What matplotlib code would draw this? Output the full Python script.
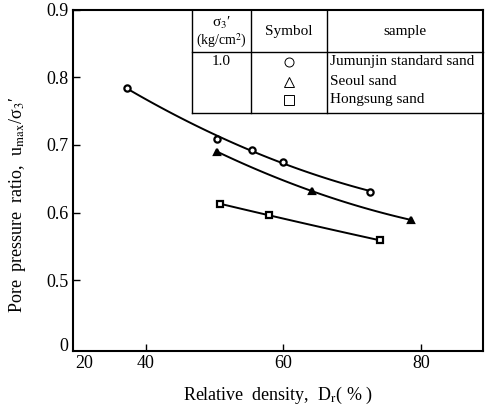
import numpy as np
import matplotlib
matplotlib.use('Agg')
from matplotlib import pyplot as plt

plt.rcParams['font.family'] = ['Liberation Serif', 'DejaVu Serif']
plt.rcParams['mathtext.fontset'] = 'stix'

# data: relative density (%) and pore pressure ratio
jum_dr = [37.2, 50.4, 55.5, 60.0, 72.6]
jum_u = [0.785, 0.709, 0.693, 0.675, 0.631]
seo_dr = [50.4, 64.1, 78.6]
seo_u = [0.690, 0.632, 0.589]
hong_dr = [50.8, 57.9, 74.0]
hong_u = [0.613, 0.596, 0.559]

# broken axes: first labels sit next to the origin
xticks = [31, 40, 60, 80]
xticklabels = ['20', '40', '60', '80']
yticks = [0.405, 0.5, 0.6, 0.7, 0.8, 0.9]
yticklabels = ['0', '0.5', '0.6', '0.7', '0.8', '0.9']

samples = ['Jumunjin standard sand', 'Seoul sand', 'Hongsung sand']


def fit_curve(x, y, deg):
    p = np.polyfit(x, y, deg)
    xs = np.linspace(min(x), max(x), 100)
    return xs, np.polyval(p, xs)


fig = plt.figure(figsize=(4.86, 4.12), dpi=100)
ax = fig.add_axes([0.150, 0.148, 0.844, 0.828])

for x, y, mk, mfc in [(jum_dr, jum_u, 'o', 'white'),
                      (seo_dr, seo_u, '^', 'black'),
                      (hong_dr, hong_u, 's', 'white')]:
    xs, ys = fit_curve(x, y, 2)
    ax.plot(xs, ys, color='black', lw=1.4)
    ax.plot(x, y, ls='none', marker=mk, ms=4.5, mfc=mfc, mec='black', mew=1.6)

ax.set_xlim(29.4, 89.05)
ax.set_ylim(0.395, 0.9)
ax.set_xticks(xticks)
ax.set_xticklabels(xticklabels)
ax.set_yticks(yticks)
ax.set_yticklabels(yticklabels)
ax.tick_params(direction='in', length=5, width=1.0, labelsize=13, pad=3)
ax.xaxis.get_major_ticks()[0].tick1line.set_visible(False)
ax.yaxis.get_major_ticks()[0].tick1line.set_visible(False)
for s in ax.spines.values():
    s.set_linewidth(1.5)

ax.set_xlabel('Relative  density,  D$_{\\rm r}$( % )', fontsize=13, labelpad=9)
ax.set_ylabel('Pore  pressure  ratio,  u$_{\\rm max}$/σ$_3$′', fontsize=13)
ax.yaxis.set_label_coords(-0.11, 0.43)

# table in the upper right corner
tr = ax.transAxes
kw = dict(color='black', lw=1.0, transform=tr, clip_on=False)
tl, c1, c2, tb, hs = 0.290, 0.434, 0.620, 0.698, 0.877
ax.plot([tl, tl], [tb, 1.0], **kw)
ax.plot([c1, c1], [tb, 1.0], **kw)
ax.plot([c2, c2], [tb, 1.0], **kw)
ax.plot([tl, 1.0], [hs, hs], **kw)
ax.plot([tl, 1.0], [tb, tb], **kw)

fs = 11
ax.text((tl + c1) / 2, 0.962, 'σ$_3$′', transform=tr, ha='center', va='center', fontsize=fs)
ax.text((tl + c1) / 2, 0.910, '(kg/cm$^2$)', transform=tr, ha='center', va='center', fontsize=10)
ax.text((c1 + c2) / 2, 0.938, 'Symbol', transform=tr, ha='center', va='center', fontsize=fs)
ax.text((c2 + 1.0) / 2, 0.938, 'sample', transform=tr, ha='center', va='center', fontsize=fs)
ax.text((tl + c1) / 2, 0.848, '1.0', transform=tr, ha='center', va='center', fontsize=fs)
rows = [0.848, 0.789, 0.736]
for yy, mk, name in zip(rows, ['o', '^', 's'], samples):
    ax.plot([(c1 + c2) / 2], [yy], marker=mk, ms=6.5, mfc='white', mec='black',
            mew=0.7, transform=tr, clip_on=False)
    ax.text(c2 + 0.006, yy, name, transform=tr, ha='left', va='center', fontsize=fs)

plt.savefig('out.png', dpi=100)
